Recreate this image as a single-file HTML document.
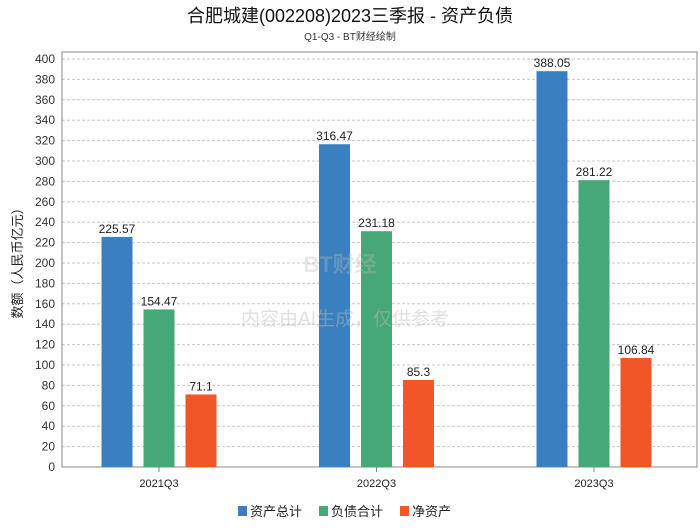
<!DOCTYPE html>
<html><head><meta charset="utf-8"><style>
body{margin:0;background:#fff;font-family:"Liberation Sans","Noto Sans CJK SC",sans-serif}
svg text{font-family:"Liberation Sans","Noto Sans CJK SC",sans-serif}
</style></head><body>
<svg id="c" width="700" height="524" xmlns="http://www.w3.org/2000/svg">
<text x="350" y="22" text-anchor="middle" font-size="18" fill="#111">合肥城建(002208)2023三季报 - 资产负债</text>
<text x="350" y="40" text-anchor="middle" font-size="10" fill="#333">Q1-Q3 - BT财经绘制</text>
<g id="grid"></g>
<rect x="62" y="52" width="635" height="415" fill="none" stroke="#888"/>
<g id="bars"></g>
<text x="340" y="272" text-anchor="middle" font-size="22" font-weight="bold" fill="#bbb" opacity="0.35">BT财经</text>
<text x="345" y="325" text-anchor="middle" font-size="19" fill="#bbb" opacity="0.45">内容由AI生成，仅供参考</text>
<text transform="translate(22,260) rotate(-90)" text-anchor="middle" font-size="13" fill="#222">数额（人民币亿元）</text>
<g>
<rect x="238" y="506" width="9" height="10" fill="#3a80c0"/>
<text x="250" y="516" font-size="13" fill="#222">资产总计</text>
<rect x="319" y="506" width="9" height="10" fill="#45a876"/>
<text x="331" y="516" font-size="13" fill="#222">负债合计</text>
<rect x="400" y="506" width="9" height="10" fill="#f05627"/>
<text x="412" y="516" font-size="13" fill="#222">净资产</text>
</g>
</svg>
<script>
const categories=["2021Q3","2022Q3","2023Q3"];
const assets=[225.57,316.47,388.05];
const liabilities=[154.47,231.18,281.22];
const equity=[71.1,85.3,106.84];
const yTicks=[0,20,40,60,80,100,120,140,160,180,200,220,240,260,280,300,320,340,360,380,400];
const NS="http://www.w3.org/2000/svg";
const y0=467,y400=59;
function yS(v){return y0-(v/400)*(y0-y400);}
function xC(i){return 159+i*217.5;}
function mk(t,a,p){const e=document.createElementNS(NS,t);for(const k in a)e.setAttribute(k,a[k]);p.appendChild(e);return e;}
const g=document.getElementById('grid');
yTicks.forEach(v=>{
 const y=yS(v);
 if(v>0){const l=mk('line',{x1:62,x2:697,y1:y,y2:y,stroke:'#c8c8c8','stroke-dasharray':'3,2'},g);
 
 }
 const t=mk('text',{x:55,y:y+4,'text-anchor':'end','font-size':12,fill:'#333'},g);t.textContent=v;
 
 
});
const b=document.getElementById('bars');
const series=[[assets,'#3a80c0',-42,'assets'],[liabilities,'#45a876',0,'liabilities'],[equity,'#f05627',42,'equity']];
categories.forEach((c,i)=>{
 series.forEach(s=>{
  const v=s[0][i],cx=xC(i)+s[2],y=yS(v);
  const r=mk('rect',{x:cx-15.5,y:y,width:31,height:y0-y,fill:s[1]},b);
  
  
  const t=mk('text',{x:cx,y:y-4,'text-anchor':'middle','font-size':12,fill:'#222'},b);t.textContent=v;
  
  
 });
 const tk=mk('line',{x1:xC(i),x2:xC(i),y1:467,y2:472,stroke:'#888'},b);
 
 
 const t=mk('text',{x:xC(i),y:487,'text-anchor':'middle','font-size':11,fill:'#222'},b);t.textContent=c;
 
 
});
</script>
</body></html>
